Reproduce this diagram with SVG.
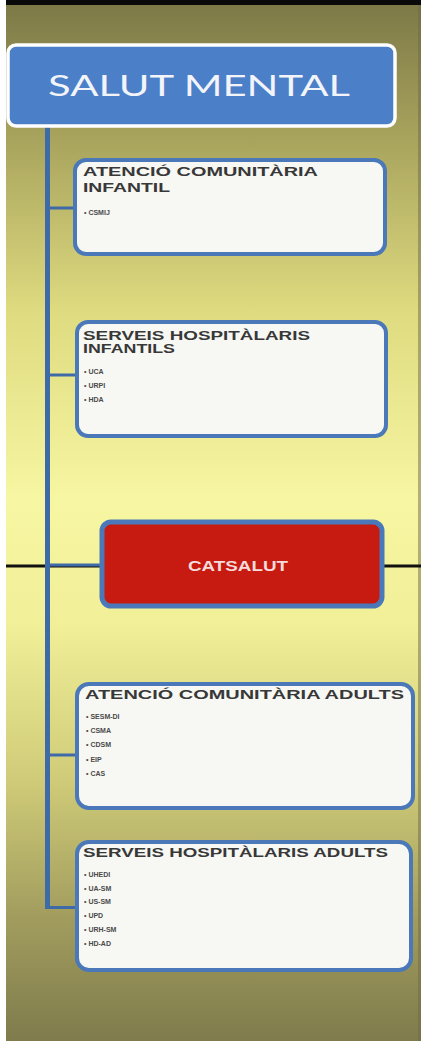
<svg xmlns="http://www.w3.org/2000/svg" width="421" height="1041" viewBox="0 0 421 1041">
<style>
.hdr{font-family:"Liberation Sans",Arial,sans-serif;font-weight:bold;font-size:12px;fill:#383838}
.bul{font-family:"Liberation Sans",Arial,sans-serif;font-weight:bold;font-size:7px;fill:#4a4a4a}
.box{fill:#f7f7f3;stroke:#4a78b8;stroke-width:4}
.con{stroke:#3f6aa8;fill:none}
</style>
<defs>
<linearGradient id="bg" x1="0" y1="0" x2="0" y2="1">
<stop offset="0" stop-color="#7b7847"/>
<stop offset="0.12" stop-color="#a49f5a"/>
<stop offset="0.3" stop-color="#dedb80"/>
<stop offset="0.48" stop-color="#f7f6a2"/>
<stop offset="0.6" stop-color="#f1ef98"/>
<stop offset="0.75" stop-color="#cfcb78"/>
<stop offset="0.88" stop-color="#a29d5e"/>
<stop offset="1" stop-color="#7f7b4c"/>
</linearGradient>
</defs>
<rect x="0" y="0" width="421" height="1041" fill="#ffffff"/>
<rect x="6" y="0" width="415" height="1041" fill="url(#bg)"/>
<rect x="418" y="0" width="3" height="1041" fill="#6d6a48" opacity="0.5"/>
<rect x="6" y="0" width="415" height="5" fill="#0a0a0a"/>
<line x1="6" y1="566" x2="421" y2="566" stroke="#111" stroke-width="3"/>
<g id="connectors">
<line class="con" x1="47.5" y1="127" x2="47.5" y2="909" stroke-width="5"/>
<line class="con" x1="47" y1="208" x2="75" y2="208" stroke-width="3"/>
<line class="con" x1="47" y1="375" x2="77" y2="375" stroke-width="3"/>
<line class="con" x1="47" y1="565" x2="102" y2="565" stroke-width="3"/>
<line class="con" x1="47" y1="755" x2="77" y2="755" stroke-width="3"/>
<line class="con" x1="47" y1="907.5" x2="77" y2="907.5" stroke-width="3"/>
</g>
<g id="salut-mental">
<rect x="8" y="45" width="387" height="81" rx="8" fill="#4b7fc8" stroke="#ffffff" stroke-width="3.5"/>
<text x="48" y="96" font-family="Lato,'Liberation Sans',sans-serif" font-size="28" fill="#f2f4fa" textLength="302" lengthAdjust="spacingAndGlyphs">SALUT MENTAL</text>
</g>
<g id="atencio-comunitaria-infantil">
<rect class="box" x="75" y="160" width="310" height="94" rx="11"/>
<text class="hdr" x="83" y="176" textLength="235" lengthAdjust="spacingAndGlyphs">ATENCIÓ COMUNITÀRIA</text>
<text class="hdr" x="83" y="192" textLength="87" lengthAdjust="spacingAndGlyphs">INFANTIL</text>
<text class="bul" x="84" y="215">•  CSMIJ</text>
</g>
<g id="serveis-hospitalaris-infantils">
<rect class="box" x="77" y="322" width="309" height="114" rx="11"/>
<text class="hdr" x="83" y="340" textLength="227" lengthAdjust="spacingAndGlyphs">SERVEIS HOSPITÀLARIS</text>
<text class="hdr" x="83" y="353" textLength="92" lengthAdjust="spacingAndGlyphs">INFANTILS</text>
<text class="bul" x="84" y="374">•  UCA</text>
<text class="bul" x="84" y="388">•  URPI</text>
<text class="bul" x="84" y="402">•  HDA</text>
</g>
<g id="catsalut">
<rect x="102" y="522" width="280" height="84" rx="9" fill="#c71a10" stroke="#4a78b8" stroke-width="5"/>
<text x="238" y="571" text-anchor="middle" font-family="'Liberation Sans',Arial,sans-serif" font-weight="bold" font-size="14.5" fill="#f5dcdc" textLength="100" lengthAdjust="spacingAndGlyphs">CATSALUT</text>
</g>
<g id="atencio-comunitaria-adults">
<rect class="box" x="77" y="684" width="336" height="124" rx="12"/>
<text class="hdr" x="85" y="699" font-size="12.5" textLength="319" lengthAdjust="spacingAndGlyphs">ATENCIÓ COMUNITÀRIA ADULTS</text>
<text class="bul" x="86" y="719">•  SESM-DI</text>
<text class="bul" x="86" y="733">•  CSMA</text>
<text class="bul" x="86" y="747">•  CDSM</text>
<text class="bul" x="86" y="762">•  EIP</text>
<text class="bul" x="86" y="776">•  CAS</text>
</g>
<g id="serveis-hospitalaris-adults">
<rect class="box" x="77" y="842" width="334" height="128" rx="12"/>
<text class="hdr" x="83" y="857" font-size="12.5" textLength="305" lengthAdjust="spacingAndGlyphs">SERVEIS HOSPITÀLARIS ADULTS</text>
<text class="bul" x="84" y="877">•  UHEDI</text>
<text class="bul" x="84" y="891">•  UA-SM</text>
<text class="bul" x="84" y="904">•  US-SM</text>
<text class="bul" x="84" y="918">•  UPD</text>
<text class="bul" x="84" y="932">•  URH-SM</text>
<text class="bul" x="84" y="946">•  HD-AD</text>
</g>
</svg>
